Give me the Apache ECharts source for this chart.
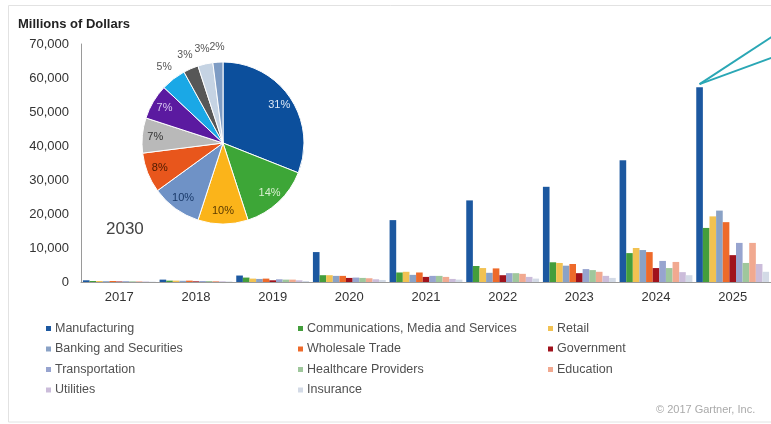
<!DOCTYPE html>
<html>
<head>
<meta charset="utf-8">
<script src="https://cdn.jsdelivr.net/npm/echarts@6/dist/echarts.min.js"></script>
<style>
html,body{margin:0;padding:0;background:#fff;}
#c{width:771px;height:424px;}
</style>
</head>
<body>
<div id="c"></div>
<script>
const years = ['2017','2018','2019','2020','2021','2022','2023','2024','2025'];
const seriesNames = ['Manufacturing','Communications, Media and Services','Retail','Banking and Securities','Wholesale Trade','Government','Transportation','Healthcare Providers','Education','Utilities','Insurance'];
const manufacturing  = [500, 700, 1900, 8800, 18200, 24000, 28000, 35800, 57300];
const communications = [300, 400, 1300, 2000, 2800, 4700, 5800, 8500, 15900];
const retail         = [300, 400, 1000, 2000, 3000, 4100, 5600, 10000, 19300];
const banking        = [250, 350, 900, 1800, 2100, 2700, 4800, 9400, 21000];
const wholesale      = [300, 400, 1000, 1800, 2800, 4000, 5300, 8800, 17600];
const government     = [150, 200, 500, 1200, 1500, 2000, 2600, 4100, 7900];
const transportation = [250, 300, 800, 1300, 1800, 2600, 3800, 6200, 11500];
const healthcare     = [200, 300, 700, 1200, 1800, 2600, 3500, 4100, 5600];
const education      = [200, 300, 700, 1100, 1500, 2400, 3000, 5900, 11500];
const utilities      = [150, 200, 500, 800, 900, 1500, 1800, 2900, 5300];
const insurance      = [100, 150, 300, 600, 700, 1000, 1200, 2000, 3000];
const yTicks = [0, 10000, 20000, 30000, 40000, 50000, 60000, 70000];

const pieYear = '2030';
const pieValues = [31, 14, 10, 10, 8, 7, 7, 5, 3, 3, 2];
const pieLabels = ['31%','14%','10%','10%','8%','7%','7%','5%','3%','3%','2%'];

const seriesData = [manufacturing, communications, retail, banking, wholesale, government, transportation, healthcare, education, utilities, insurance];
const barColors = ['#1c58a0','#449e3c','#f2c252','#8aa2c6','#ee6a2a','#a0121c','#97a4cf','#9fc79c','#f1a990','#cbbcda','#d3dae6'];
const pieColors = ['#0c4f9c','#3da637','#fbb41a','#6f92c6','#e8561c','#b9b9b9','#5b1aa0','#1aa8e6','#575757','#c5d3e3','#7e9cc4'];
const pieLabelColors = ['#dce8f6','#d8f0d0','#5a3a00','#1a3a6a','#4a1a00','#333333','#d8c8f0','#555','#555','#555','#555'];

const FONT = 'Arial, "Liberation Sans", sans-serif';
const chart = echarts.init(document.getElementById('c'));

const bars = seriesNames.map((n, i) => ({
  name: n, type: 'bar', data: seriesData[i],
  barGap: '0%', barCategoryGap: '5%',
  itemStyle: { color: barColors[i] },
  emphasis: { disabled: true }
}));

const bigCount = 7;
const pieVisibleData = pieValues.map((v, i) => ({
  value: v, name: pieLabels[i], itemStyle: { color: pieColors[i] }
}));
const pieLabelData = (big) => pieValues.map((v, i) => ({
  value: v, name: pieLabels[i],
  label: ((i < bigCount) === big) ? { show: true, position: 'inside', color: pieLabelColors[i], fontSize: big ? 11 : 10.5, fontFamily: FONT } : { show: false }
}));

const cols = [
  ['Manufacturing','Banking and Securities','Transportation','Utilities'],
  ['Communications, Media and Services','Wholesale Trade','Healthcare Providers','Insurance'],
  ['Retail','Government','Education']
];
const colLeft = [41, 293, 543];
const legends = cols.map((d, k) => ({
  data: d, left: colLeft[k], top: 317, orient: 'vertical',
  itemWidth: 5, itemHeight: 5, itemGap: 7.5, icon: 'rect',
  selectedMode: false,
  textStyle: { fontSize: 12.5, color: '#505050', fontFamily: FONT, padding: [0,0,0,-1] }
}));

const baseGraphic = [
  { type: 'rect', shape: { x: 8.5, y: 5.5, width: 800, height: 416.5 }, style: { fill: 'none', stroke: '#e2e2e2', lineWidth: 1 }, z: -1 },
  { type: 'text', left: 18, top: 18, style: { text: 'Millions of Dollars', font: 'bold 13px ' + FONT, fill: '#222' } },
  { type: 'text', left: 106, top: 221, style: { text: pieYear, font: '17px ' + FONT, fill: '#444' } },
  { type: 'text', left: 656, top: 404, style: { text: '\u00a9 2017 Gartner, Inc.', font: '11px ' + FONT, fill: '#aaa' } }
];

const labelPie = (r, big) => ({
  type: 'pie', center: [223, 143], radius: [0, r], startAngle: 90, clockwise: true,
  data: pieLabelData(big), silent: true, z: 11,
  labelLayout: { hideOverlap: false },
  itemStyle: { color: 'rgba(0,0,0,0)' }, labelLine: { show: false }
});

chart.setOption({
  animation: false,
  backgroundColor: '#fff',
  textStyle: { fontFamily: FONT },
  grid: { left: 81, top: 44, right: 0, bottom: 142, containLabel: false },
  legend: legends,
  xAxis: {
    type: 'category', data: years,
    axisLine: { lineStyle: { color: '#9a9a9a', width: 1 } },
    axisTick: { show: false },
    axisLabel: { color: '#333', fontSize: 13, margin: 9, fontFamily: FONT }
  },
  yAxis: {
    type: 'value', min: yTicks[0], max: yTicks[yTicks.length-1], interval: yTicks[1]-yTicks[0],
    axisLine: { show: true, lineStyle: { color: '#9a9a9a', width: 1 } },
    axisTick: { show: false },
    splitLine: { show: false },
    axisLabel: { color: '#333', fontSize: 13, margin: 12, fontFamily: FONT,
      formatter: v => v.toLocaleString('en-US') }
  },
  series: bars.concat([
    { type: 'pie', center: [223, 143], radius: [0, 81], startAngle: 90, clockwise: true,
      data: pieVisibleData, silent: true, z: 10, label: { show: false }, labelLine: { show: false },
      itemStyle: { borderColor: '#fff', borderWidth: 1 } },
    labelPie(130, true),
    labelPie(186, false)
  ]),
  graphic: baseGraphic
});

// callout lines from the top of the 2025 Manufacturing bar
try {
  const data = chart.getModel().getSeriesByIndex(0).getData();
  const lay = data.getItemLayout(years.length - 1);
  const x0 = lay.x + lay.width / 2;
  const y0 = lay.y + lay.height - 3;
  chart.setOption({ graphic: baseGraphic.concat([
    { type: 'line', shape: { x1: x0, y1: y0, x2: x0 + 90, y2: y0 - 59 }, style: { stroke: '#2aa7b5', lineWidth: 2 }, z: 20 },
    { type: 'line', shape: { x1: x0, y1: y0, x2: x0 + 90, y2: y0 - 33 }, style: { stroke: '#2aa7b5', lineWidth: 2 }, z: 20 }
  ])}, { replaceMerge: ['graphic'] });
} catch (e) { console.error(e); }
</script>
</body>
</html>
